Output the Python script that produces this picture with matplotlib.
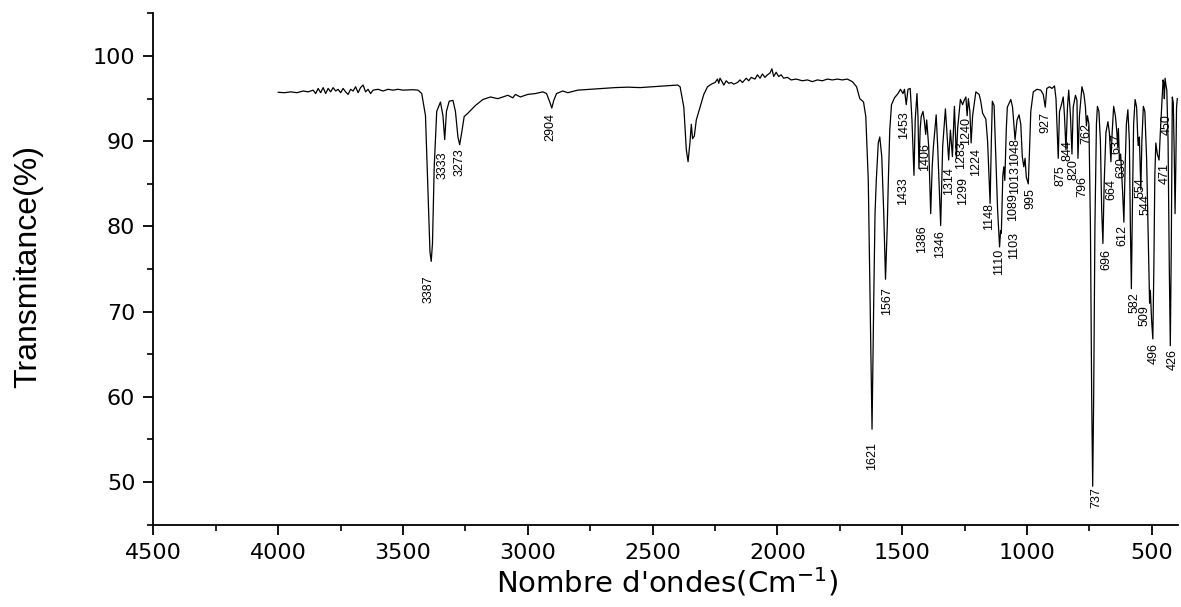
import matplotlib
matplotlib.use("Agg")
import matplotlib.pyplot as plt
import numpy as np
from matplotlib.ticker import MultipleLocator

# ---------------- data ----------------
# 4000 - 1700 cm-1 region
wn_high = [4000, 3975, 3950, 3925, 3900, 3880, 3860, 3850, 3840, 3830, 3820, 3810,
           3800, 3790, 3780, 3770, 3760, 3750, 3740, 3730, 3720, 3710, 3700, 3690,
           3680, 3670, 3660, 3650, 3640, 3630, 3620, 3600, 3580, 3560, 3540, 3520,
           3500, 3460, 3440, 3425, 3410, 3400, 3392, 3387, 3382, 3375, 3365, 3350,
           3340, 3333, 3326, 3315, 3300, 3290, 3280, 3273, 3265, 3255, 3240, 3210,
           3180, 3150, 3120, 3100, 3080, 3060, 3050, 3030, 3000, 2970, 2940, 2925,
           2912, 2904, 2896, 2885, 2860, 2840, 2800, 2750, 2700, 2650, 2600, 2550,
           2500, 2450, 2400, 2390, 2375, 2365, 2358, 2350, 2345, 2340, 2333, 2325,
           2310, 2295, 2280, 2265, 2250, 2240, 2235, 2230, 2222, 2215, 2205, 2195,
           2185, 2175, 2160, 2150, 2140, 2125, 2115, 2105, 2090, 2080, 2070, 2060,
           2050, 2040, 2030, 2022, 2015, 2005, 1995, 1985, 1975, 1960, 1945, 1925,
           1900, 1880, 1860, 1840, 1820, 1800, 1780, 1760, 1740, 1720]
t_high = [95.75, 95.7, 95.8, 95.7, 95.9, 95.8, 96.0, 95.6, 96.2, 95.7, 96.3, 95.6,
          96.2, 95.8, 96.3, 95.9, 96.1, 95.7, 96.2, 95.8, 95.5, 96.1, 95.9, 96.4,
          95.7, 96.3, 96.6, 95.8, 96.1, 95.6, 96.0, 96.1, 95.9, 96.1, 96.0, 96.1,
          96.0, 96.05, 96.0, 95.6, 93.0, 84.0, 77.0, 75.9, 78.0, 87.0, 93.5, 94.6,
          93.0, 90.2, 93.5, 94.7, 94.8, 93.5, 90.5, 89.6, 91.0, 92.9, 93.3, 94.2,
          94.9, 95.2, 95.0, 95.2, 95.4, 95.1, 95.5, 95.2, 95.5, 95.6, 95.8, 95.6,
          94.6, 93.9, 94.8, 95.6, 95.9, 95.7, 96.0, 96.1, 96.2, 96.3, 96.35, 96.3,
          96.4, 96.5, 96.6, 96.4, 94.0, 89.0, 87.6, 90.0, 92.0, 90.3, 90.6, 92.5,
          94.0, 95.5, 96.4, 96.7, 96.9, 97.3, 96.8, 97.4, 97.0, 96.6, 97.1, 96.8,
          96.9, 96.7, 96.9, 97.2, 96.9, 97.4, 97.1, 97.5, 97.3, 97.8, 97.4, 97.9,
          97.5, 97.8, 98.0, 98.5, 97.6, 98.1, 97.6, 97.8, 97.4, 97.5, 97.2, 97.3,
          97.1, 97.2, 97.0, 97.2, 97.1, 97.3, 97.2, 97.3, 97.2, 97.3]

# 1700 - 398 cm-1 fingerprint region
wn_fp = [1700, 1683, 1670, 1662, 1655, 1646, 1636, 1628, 1621, 1614, 1609, 1604,
         1596, 1590, 1582, 1574, 1567, 1560, 1556, 1550, 1543, 1531, 1517, 1507,
         1497, 1491, 1484, 1477, 1468, 1461, 1453, 1448, 1441, 1437, 1433, 1428,
         1424, 1417, 1411, 1406, 1402, 1394, 1386, 1380, 1375, 1364, 1358, 1346,
         1338, 1327, 1314, 1307, 1299, 1291, 1283, 1278, 1267, 1258, 1252, 1245,
         1240, 1235, 1229, 1224, 1218, 1205, 1192, 1186, 1178, 1165, 1158, 1148,
         1143, 1139, 1132, 1125, 1118, 1110, 1106, 1103, 1097, 1093, 1089, 1083,
         1079, 1065, 1058, 1048, 1040, 1032, 1025, 1019, 1013, 1008, 1003, 995,
         990, 985, 975, 960, 945, 935, 927, 921, 910, 900, 890, 884, 879, 875,
         870, 862, 855, 850, 844, 838, 833, 826, 820, 815, 806, 800, 796, 790,
         780, 772, 766, 762, 758, 752, 746, 741, 737, 733, 728, 722, 718, 712,
         706, 701, 696, 691, 684, 676, 670, 664, 659, 653, 646, 640, 637, 634,
         630, 625, 617, 612, 607, 602, 596, 590, 586, 582, 578, 573, 567, 561,
         556, 554, 550, 544, 540, 534, 528, 521, 514, 509, 506, 501, 496, 492,
         488, 484, 478, 471, 466, 460, 455, 452, 450, 447, 443, 440, 435, 430,
         426, 422, 418, 414, 410, 407, 404, 401, 398]
t_fp = [97.0, 96.4, 95.0, 94.8, 94.6, 92.9, 85.4, 69.7, 56.2, 71.7, 81.5, 85.4,
        89.8, 90.5, 88.2, 81.5, 73.8, 80.0, 85.0, 91.3, 94.3, 95.1, 95.6, 96.1,
        95.6, 96.1, 94.3, 96.1, 96.2, 92.5, 86.0, 92.5, 95.6, 93.0, 86.8, 91.5,
        92.9, 93.5, 92.3, 90.8, 92.5, 89.4, 81.5, 87.0, 89.4, 93.1, 89.4, 80.1,
        89.4, 93.8, 87.8, 91.3, 88.2, 94.1, 88.0, 91.5, 94.9, 94.3, 94.8, 95.2,
        93.0, 95.0, 93.5, 89.8, 93.0, 95.8, 95.5, 94.8, 93.3, 92.6, 90.0, 82.7,
        90.0, 94.7, 94.2, 88.0, 82.0, 77.6, 79.5, 79.2, 86.0, 87.0, 85.4, 91.5,
        94.0, 94.9, 94.0, 90.2, 92.5, 93.1, 92.0, 88.2, 87.0, 88.0, 85.8, 85.0,
        89.0, 93.5, 95.8, 96.1, 96.0, 95.5, 94.0, 96.2, 96.4, 96.2, 96.5, 95.0,
        91.1, 88.0, 93.5, 94.3, 95.2, 93.0, 89.0, 94.0, 96.0, 93.0, 88.5, 94.0,
        95.4, 94.8, 88.0, 93.0, 96.4, 95.5, 94.0, 91.8, 93.0, 92.0, 80.0, 60.0,
        49.5, 60.0, 80.0, 92.0, 94.1, 93.5, 90.0, 82.0, 78.0, 85.0, 91.0, 92.3,
        91.0, 87.6, 91.0, 94.1, 93.0, 91.0, 89.4, 91.5, 87.8, 88.5, 84.0, 80.5,
        87.0, 92.0, 93.7, 90.0, 80.0, 72.7, 82.0, 92.0, 94.9, 94.0, 90.1, 89.5,
        90.5, 84.3, 90.0, 94.1, 93.5, 88.0, 78.0, 71.0, 72.5, 69.0, 66.8, 75.0,
        86.0, 89.8, 88.5, 87.8, 91.0, 94.5, 97.2, 96.8, 95.0, 97.4, 96.5, 96.0,
        90.0, 75.0, 66.0, 78.0, 95.2, 94.5, 88.0, 81.5, 87.0, 94.0, 95.0]

# peak annotations: text, and where the label's top sits (data units)
peak_text = ["3387", "3333", "3273", "2904", "1621", "1567", "1453", "1433", "1406",
             "1386", "1346", "1314", "1299", "1283", "1240", "1224", "1148", "1110",
             "1103", "1089", "1048", "1013", "995", "927", "875", "844", "820", "796",
             "762", "737", "696", "664", "637", "630", "612", "582", "554", "544",
             "509", "496", "471", "450", "426"]
label_wn = [3399, 3341, 3272, 2908, 1620, 1560, 1493, 1496, 1409,
            1422, 1349, 1312, 1258, 1266, 1245, 1205, 1153, 1111,
            1052, 1055, 1048, 1048, 986, 928, 865, 839, 812, 777,
            761, 724, 681, 661, 644, 621, 617, 568, 545, 524,
            529, 494, 448, 441, 417]
label_t = [74.26, 88.77, 89.17, 93.29, 54.65, 72.82, 93.48, 85.83, 89.80,
           80.15, 79.56, 86.97, 85.83, 89.95, 92.86, 89.21, 82.77, 77.44,
           79.36, 83.91, 90.39, 87.09, 84.50, 93.48, 87.21, 90.15, 87.91, 85.91,
           92.19, 49.35, 77.32, 85.56, 90.97, 88.15, 80.15, 72.30, 85.83, 83.80,
           70.73, 66.30, 87.48, 93.21, 65.64]

x_ticks = [4500, 4000, 3500, 3000, 2500, 2000, 1500, 1000, 500]
y_ticks = [50, 60, 70, 80, 90, 100]

# ---------------- plotting ----------------
plt.rcParams['mathtext.default'] = 'regular'
tick_font = ['DejaVu Sans']
narrow_font = ['Liberation Sans Narrow', 'DejaVu Sans Condensed', 'Liberation Sans']

wn = np.array(wn_high + wn_fp, dtype=float)
tr = np.array(t_high + t_fp, dtype=float)

fig = plt.figure(figsize=(11.81, 6.07), dpi=100)
ax = fig.add_axes([0.1299, 0.1357, 0.8676, 0.8421])
ax.plot(wn, tr, color='black', lw=0.9)

ax.set_xlim(4500, 395)
ax.set_ylim(45, 105)
ax.set_xticks(x_ticks)
ax.set_yticks(y_ticks)
ax.xaxis.set_minor_locator(MultipleLocator(250))
ax.yaxis.set_minor_locator(MultipleLocator(5))

for s in ['top', 'right']:
    ax.spines[s].set_visible(False)
for s in ['left', 'bottom']:
    ax.spines[s].set_linewidth(1.3)

ax.tick_params(which='major', direction='out', length=7, width=1.3, pad=6,
               labelsize=16, colors='black')
ax.tick_params(which='minor', direction='out', length=4, width=1.2)
for lab in ax.get_xticklabels() + ax.get_yticklabels():
    lab.set_family(tick_font)

ylab = ax.set_ylabel('Transmitance(%)', fontsize=23, family=narrow_font)
ylab.set_va('center')
ax.yaxis.set_label_coords(-0.1224, 0.505)

xlab = ax.set_xlabel("Nombre d'ondes(Cm$^{-1}$)", fontsize=21, family=tick_font)
xlab.set_va('center')
ax.xaxis.set_label_coords(0.501, -0.112)

for txt, x, y in zip(peak_text, label_wn, label_t):
    ax.text(x, y, txt, rotation=90, ha='center', va='top', fontsize=9,
            family=narrow_font, color='black')

fig.savefig('out.png', dpi=100)
